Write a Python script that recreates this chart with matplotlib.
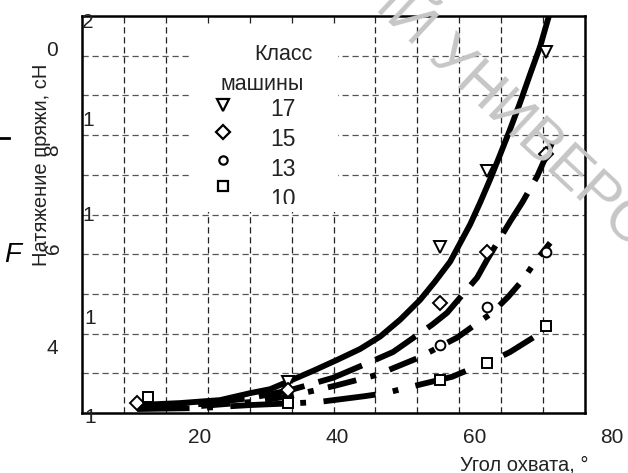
import matplotlib
matplotlib.use('Agg')
import matplotlib.pyplot as plt
from matplotlib.lines import Line2D
from matplotlib.patches import Rectangle
from matplotlib.transforms import Bbox, TransformedBbox, blended_transform_factory

plt.rcParams['font.family'] = ['Liberation Sans', 'DejaVu Sans']

W, H = 628, 473

# measured points (angle of wrap, deg ; yarn tension, cN)
x17 = [32.9, 55.0, 61.9, 70.4]
y17 = [12.63, 15.35, 16.87, 19.27]
x15 = [10.9, 32.9, 55.0, 61.9, 70.4]
y15 = [12.20, 12.46, 14.22, 15.25, 17.21]
x13 = [55.0, 61.9, 70.4]
y13 = [13.37, 14.14, 15.25]
x10 = [12.5, 32.9, 55.0, 61.9, 70.4]
y10 = [12.32, 12.20, 12.67, 13.01, 13.76]

# curves
cx17 = [10.92, 17.18, 23.00, 27.37, 30.28, 33.19, 36.54, 40.03, 43.38, 46.29, 49.20, 52.11,
        54.29, 56.48, 59.39, 60.84, 62.30, 63.76, 65.21, 66.67, 68.12, 69.58, 70.89]
cy17 = [12.16, 12.20, 12.26, 12.40, 12.48, 12.65, 12.85, 13.07, 13.29, 13.54, 13.88, 14.28,
        14.65, 15.05, 15.80, 16.24, 16.71, 17.21, 17.72, 18.26, 18.83, 19.39, 20.02]
cx15 = [10.92, 20.09, 27.37, 33.19, 39.45, 45.56, 48.18, 53.86, 56.04, 60.41, 61.86, 65.21, 66.96, 69.14, 71.32]
cy15 = [12.12, 12.18, 12.30, 12.46, 12.71, 13.07, 13.23, 13.78, 14.02, 14.73, 15.09, 15.86, 16.24, 16.77, 17.45]
cx13 = [10.92, 20.09, 27.37, 33.19, 39.74, 45.85, 51.82, 57.50, 60.12, 62.59, 64.92, 67.10, 68.85, 71.03]
cy13 = [12.10, 12.14, 12.22, 12.34, 12.55, 12.77, 13.11, 13.52, 13.78, 14.02, 14.34, 14.69, 15.05, 15.43]
cx10 = [10.92, 20.09, 27.37, 34.21, 37.26, 44.10, 47.02, 50.22, 56.77, 59.83, 62.30, 65.21, 68.56]
cy10 = [12.08, 12.10, 12.16, 12.20, 12.22, 12.34, 12.40, 12.51, 12.73, 12.91, 13.03, 13.23, 13.52]

xticks = [20, 40, 60, 80]
classes = ['17', '15', '13', '10']


def P(px, py):
    return px / W, 1 - py / H


fig = plt.figure(figsize=(W / 100, H / 100), dpi=100)
ax = fig.add_axes([82 / W, 1 - 413 / H, 503 / W, 397 / H])
x0, x1, y0, y1 = 2.91, 76.1, 12, 20
ax.set_xlim(x0, x1)
ax.set_ylim(y0, y1)
ax.set_xticks([])
ax.set_yticks([])
for s in ax.spines.values():
    s.set_linewidth(1.8)

# grid: 12 x 10 equal cells
for k in range(1, 12):
    ax.axvline(x0 + k * (x1 - x0) / 12, color='#222222', lw=0.9, ls=(0, (5, 3)), zorder=1)
for k in range(1, 10):
    ax.axhline(y0 + k * (y1 - y0) / 10, color='#555555', lw=0.9, ls=(0, (5, 3)), zorder=1)

# watermark
fig.text(*P(309, -73), 'СКИЙ УНИВЕРСИТЕТ', fontsize=42, color='#c6c6c6',
         rotation=-43, rotation_mode='anchor', ha='left', va='center', zorder=2)

lw = 4.2
ax.plot(cx17, cy17, color='black', lw=lw, solid_capstyle='butt', solid_joinstyle='round', zorder=3)
ax.plot(cx15, cy15, color='black', lw=lw, ls=(0, (8, 2.5)), dash_capstyle='butt', zorder=3)
ax.plot(cx13, cy13, color='black', lw=lw, ls=(0, (5, 2.5, 1, 2.5)), dash_capstyle='butt', zorder=3)
ax.plot(cx10, cy10, color='black', lw=lw, ls=(0, (9, 3, 1, 3)), dash_capstyle='butt', zorder=3)

mk = dict(ls='none', mfc='white', mec='black', mew=1.4, zorder=4, clip_on=False)
ax.plot(x17, y17, marker='v', ms=9, **mk)
ax.plot(x15, y15, marker='D', ms=7.5, **mk)
ax.plot(x13, y13, marker='o', ms=7, **mk)
ax.plot(x10, y10, marker='s', ms=7.5, **mk)

# legend block
ax.add_patch(Rectangle(P(190, 212), 148 / W, 186 / H, transform=fig.transFigure,
                       facecolor='white', edgecolor='none', zorder=2.5, clip_on=False))
fig.text(*P(283, 55), 'Класс', fontsize=15.5, ha='center', va='center', color='#222222')
fig.text(*P(262, 85), 'машины', fontsize=15.5, ha='center', va='center', color='#222222')
clip = TransformedBbox(Bbox.from_extents(190 / W, 1 - 204 / H, 338 / W, 1 - 26 / H), fig.transFigure)
for lab, m, ms, py, ty in zip(classes, ['v', 'D', 'o', 's'], [8, 7, 6, 7],
                              [105, 132, 160, 186], [110, 140, 169, 199]):
    fig.add_artist(Line2D([223 / W], [1 - py / H], marker=m, ms=ms, mfc='white',
                          mec='black', mew=1.6, ls='none'))
    t = fig.text(*P(283, ty), lab, fontsize=16.5, ha='center', va='center', color='#222222')
    t.set_clip_box(clip)

# x tick labels and axis label
tr = blended_transform_factory(ax.transData, fig.transFigure)
for v in xticks:
    ax.text(v, 1 - 437 / H, str(v), transform=tr, fontsize=15, ha='center', va='center',
            color='#222222', clip_on=False)
fig.text(*P(588, 465), 'Угол охвата, °', fontsize=14.5, ha='right', va='center', color='#222222')

# y label and leftover scale digits
fig.text(*P(42, 165), 'Натяжение пряжи, сН', fontsize=14.5, rotation=90,
         ha='center', va='center', color='#222222')
for s, px, py, rot in [('2', 88, 22, 0), ('1', 88, 120, 0), ('1', 88, 215, 0), ('1', 90, 318, 0),
                       ('1', 90, 417, 0), ('0', 52, 50, 0), ('8', 53, 150, 90), ('6', 53, 248, 90),
                       ('4', 52, 348, 0)]:
    fig.text(*P(px, py), s, fontsize=15, rotation=rot, ha='center', va='center', color='#222222')
fig.text(*P(13, 255), 'F', fontsize=20, style='italic', ha='center', va='center')
fig.add_artist(Line2D([0, 9 / W], [1 - 138 / H, 1 - 138 / H], color='black', lw=2))

fig.savefig('out.png', dpi=100)
